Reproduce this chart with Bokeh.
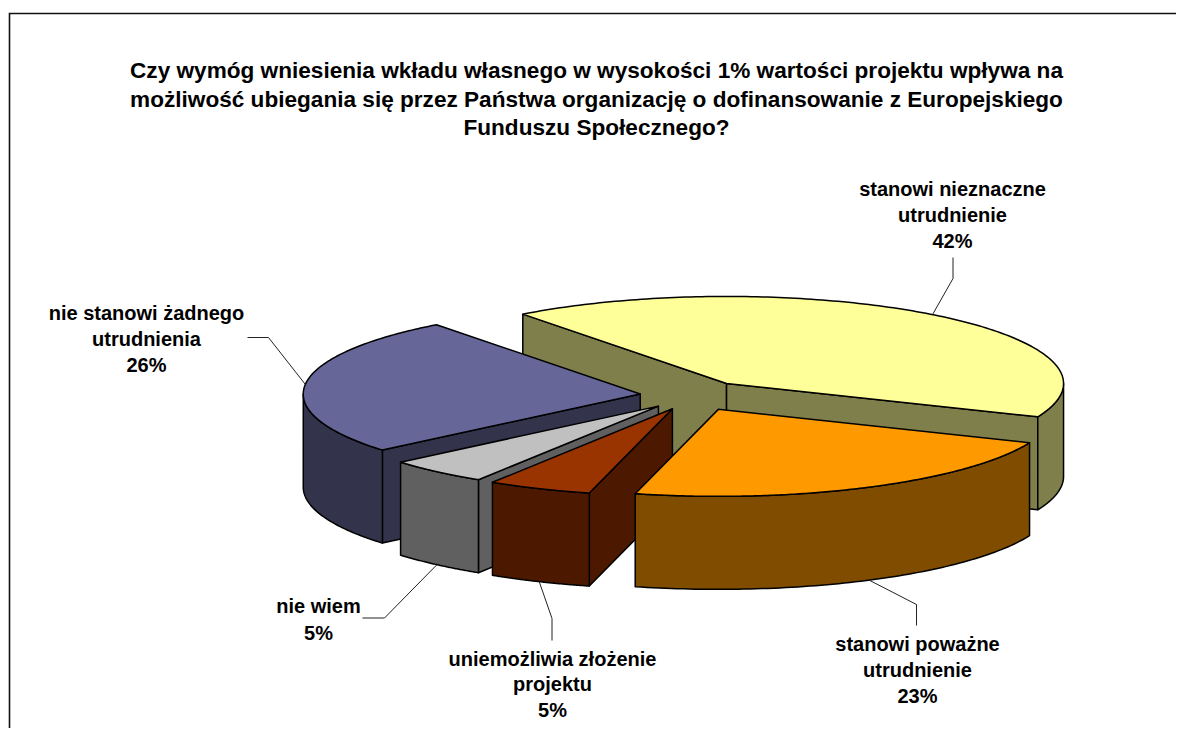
import numpy as np
from bokeh.plotting import figure
from bokeh.models import Range1d
from bokeh.core.properties import value
from bokeh.embed import file_html
from bokeh.resources import INLINE

title_lines = [
    "Czy wymóg wniesienia wkładu własnego w wysokości 1% wartości projektu wpływa na",
    "możliwość ubiegania się przez Państwa organizację o dofinansowanie z Europejskiego",
    "Funduszu Społecznego?",
]
categories = [
    ["stanowi nieznaczne", "utrudnienie"],
    ["stanowi poważne", "utrudnienie"],
    ["uniemożliwia złożenie", "projektu"],
    ["nie wiem"],
    ["nie stanowi żadnego", "utrudnienia"],
]
shares_pct = [41.6, 22.7, 5.0, 4.9, 25.8]

top_colors = ["#FFFF99", "#FF9900", "#993300", "#C0C0C0", "#666699"]
side_colors = ["#7F7F4C", "#7F4C00", "#4C1900", "#606060", "#33334C"]
explode = [0.175, 0.178, 0.147, 0.147, 0.150]
nudge = [(0, 0), (1, 0), (1.5, 1.5), (0.5, 1), (0, 0)]
draw_order = [0, 4, 3, 2, 1]

# style / layout of the pseudo-3D projection, in page pixels
CX, CY, RX, RY, DEPTH = 690.0, 395.0, 337.0, 87.0, 93.0
START_ANGLE = 127.2
FONT = "Liberation Sans"
TITLE_SIZE, LABEL_SIZE = "22.6px", "20px"
title_pos = (596, [70, 99, 127])
# label centre (x, first-line y, line step) and leader elbow / end for each slice
label_pos = [(952, 188, 26), (917, 643, 26), (552, 658, 25.5), (318, 605, 27), (146, 312, 26)]
leader_mid = [(952.5, 278), (916, 604), (551.5, 618), (384, 617.5), (268, 337)]
leader_end = [(952.5, 257), (916, 625), (551.5, 640), (362, 617.5), (247, 337)]
frame_x, frame_y = 9, 13

p = figure(width=1176, height=728, output_backend="svg", toolbar_location=None,
           x_range=Range1d(0, 1176), y_range=Range1d(728, 0),
           min_border=0, outline_line_color=None, background_fill_color="white",
           border_fill_color="white")
p.axis.visible = False
p.grid.visible = False

p.line([frame_x, frame_x, 1176], [728, frame_y, frame_y], line_color="#111111", line_width=1.6,
       line_join="miter")

shares = np.array(shares_pct, dtype=float) / sum(shares_pct) * 360.0
edges = START_ANGLE - np.concatenate([[0.0], np.cumsum(shares)])


def ell(t_deg):
    t = np.radians(t_deg)
    return RX * np.cos(t), -RY * np.sin(t)


def face(xs, ys, color):
    p.patch(list(xs), list(ys), fill_color=color, line_color="black", line_width=1.5,
            line_join="round")


apexes, mids = [], []
for i in range(len(shares_pct)):
    mid = (edges[i] + edges[i + 1]) / 2
    ex, ey = ell(mid)
    apexes.append((CX + explode[i] * ex + nudge[i][0], CY + explode[i] * ey + nudge[i][1]))
    mids.append(mid)

for i in draw_order:
    t1, t2 = edges[i], edges[i + 1]
    ax, ay = apexes[i]
    # the cut faces that look towards the viewer
    for t, seen in ((t1, np.cos(np.radians(t1)) < 0), (t2, np.cos(np.radians(t2)) > 0)):
        if seen:
            dx, dy = ell(t)
            face([ax, ax + dx, ax + dx, ax], [ay, ay + dy, ay + dy + DEPTH, ay + DEPTH], side_colors[i])
    # outer rim, only the part on the near half
    lo, hi = max(t2, -180.0), min(t1, 0.0)
    if hi > lo:
        ts = np.linspace(hi, lo, 80)
        dx, dy = ell(ts)
        rx = ax + dx
        ry = ay + dy
        face(np.concatenate([rx, rx[::-1]]), np.concatenate([ry, ry[::-1] + DEPTH]), side_colors[i])
    # top face
    ts = np.linspace(t1, t2, 160)
    dx, dy = ell(ts)
    face(np.concatenate([[ax], ax + dx]), np.concatenate([[ay], ay + dy]), top_colors[i])

# leader lines start on the slice edge at the middle of its angle
for i, mid in enumerate(mids):
    dx, dy = ell(mid)
    sx, sy = apexes[i][0] + dx, apexes[i][1] + dy
    if np.sin(np.radians(mid)) < 0:
        sy += DEPTH
    p.line([sx, leader_mid[i][0], leader_end[i][0]],
           [sy, leader_mid[i][1], leader_end[i][1]],
           line_color="#222222", line_width=1.0)

# data labels
for i, lines in enumerate(categories):
    x, y, step = label_pos[i]
    rows = lines + [f"{round(shares_pct[i])}%"]
    p.text([x] * len(rows), [y + k * step for k in range(len(rows))], text=rows,
           text_font=value(FONT), text_font_style="bold", text_font_size=LABEL_SIZE,
           text_align="center", text_baseline="middle", text_color="black")

p.text([title_pos[0]] * 3, title_pos[1], text=title_lines, text_font=value(FONT),
       text_font_style="bold", text_font_size=TITLE_SIZE, text_align="center",
       text_baseline="middle", text_color="black")

open("out.html", "w").write(file_html(p, INLINE))
